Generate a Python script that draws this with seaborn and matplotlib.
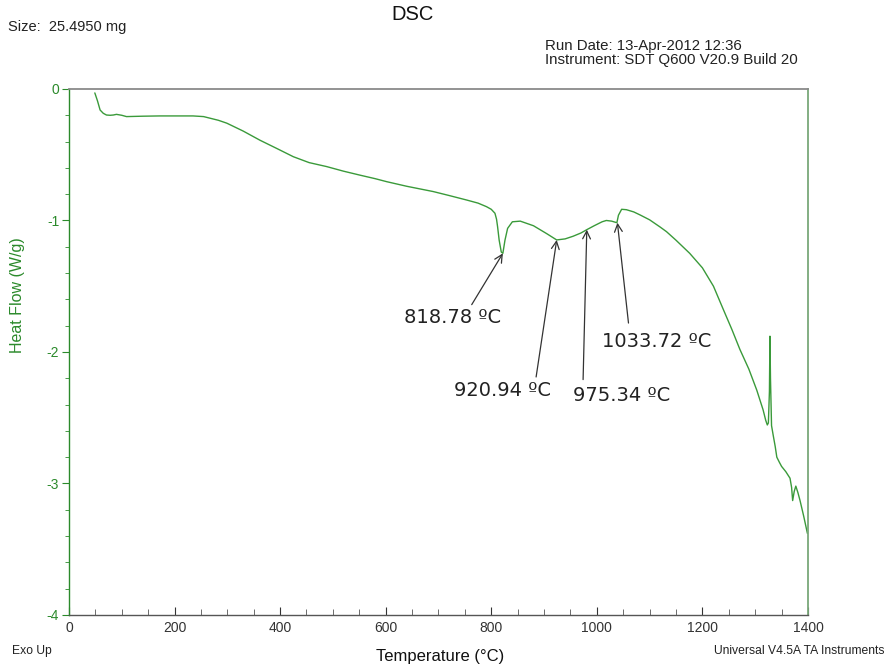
import numpy as np
import pandas as pd
import matplotlib
matplotlib.use("Agg")
import matplotlib.pyplot as plt
import seaborn as sns
from matplotlib.ticker import MultipleLocator

# ---- data ----
temperature = [49, 54, 59, 65, 71, 78, 84, 90, 100, 109, 140, 172, 205, 235, 255, 267,
               283, 299, 330, 362, 395, 425, 455, 488, 520, 551, 580, 602, 640, 690,
               720, 753, 775, 791, 800, 807, 810, 812, 815, 819, 822, 826, 831, 840,
               855, 880, 905, 924, 940, 955, 970, 981, 995, 1010, 1018, 1028, 1038,
               1041, 1047, 1056, 1070, 1082, 1100, 1120, 1132, 1150, 1176, 1200,
               1221, 1240, 1256, 1271, 1288, 1303, 1315, 1320, 1323, 1325, 1327,
               1328, 1329, 1331, 1334, 1338, 1341, 1346, 1350, 1358, 1366, 1369,
               1371, 1374, 1377, 1381, 1385, 1392, 1399]
heat_flow = [-0.03, -0.09, -0.16, -0.185, -0.198, -0.200, -0.198, -0.193, -0.200,
             -0.210, -0.207, -0.205, -0.205, -0.205, -0.210, -0.222, -0.238, -0.260,
             -0.320, -0.390, -0.455, -0.515, -0.560, -0.590, -0.625, -0.655, -0.682,
             -0.705, -0.740, -0.780, -0.810, -0.844, -0.868, -0.895, -0.915, -0.945,
             -0.990, -1.047, -1.150, -1.240, -1.250, -1.150, -1.060, -1.010, -1.005,
             -1.040, -1.100, -1.148, -1.140, -1.120, -1.095, -1.070, -1.040, -1.010,
             -1.000, -1.005, -1.017, -0.960, -0.915, -0.918, -0.935, -0.958, -0.995,
             -1.050, -1.085, -1.150, -1.250, -1.360, -1.500, -1.680, -1.830, -1.980,
             -2.130, -2.290, -2.440, -2.520, -2.555, -2.540, -2.300, -1.880, -2.200,
             -2.560, -2.630, -2.720, -2.800, -2.840, -2.870, -2.910, -2.960, -3.030,
             -3.130, -3.060, -3.020, -3.070, -3.130, -3.250, -3.380]

ann_labels = ["818.78 ºC", "920.94 ºC", "975.34 ºC", "1033.72 ºC"]
ann_point_T = [822, 924, 981, 1039]
ann_point_HF = [-1.25, -1.148, -1.07, -1.017]
ann_tail_T = [763, 885, 974, 1060]
ann_tail_HF = [-1.64, -2.19, -2.21, -1.78]
ann_text_T = [726, 822, 1047, 1114]
ann_text_HF = [-1.74, -2.29, -2.33, -1.92]

x_ticks = [0, 200, 400, 600, 800, 1000, 1200, 1400]
y_ticks = [0, -1, -2, -3, -4]

# ---- styling ----
sns.set_style("white")
plt.rcParams["font.family"] = ["Liberation Sans", "DejaVu Sans"]

green = "#3a9a3a"
dark_green = "#2b8a2b"

fig = plt.figure(figsize=(8.91, 6.67), dpi=100)
ax = fig.add_axes([0.0774, 0.078, 0.8294, 0.7886])

df = pd.DataFrame({"Temperature": temperature, "HeatFlow": heat_flow})
sns.lineplot(data=df, x="Temperature", y="HeatFlow", ax=ax, color=green,
             linewidth=1.0, sort=False, estimator=None)

ax.set_xlim(0, 1400)
ax.set_ylim(-4, 0)
ax.set_xticks(x_ticks)
ax.set_yticks(y_ticks)
ax.xaxis.set_minor_locator(MultipleLocator(50))
ax.yaxis.set_minor_locator(MultipleLocator(0.2))
ax.set_yticklabels([str(v) for v in y_ticks])

ax.tick_params(axis="x", which="major", direction="in", length=6, width=0.8,
               colors="#333333", labelsize=10, pad=4)
ax.tick_params(axis="x", which="minor", direction="in", length=4, width=0.6,
               colors="#555555")
ax.tick_params(axis="y", which="major", direction="out", length=5, width=0.8,
               colors=dark_green, labelsize=10, pad=2, left=True)
ax.tick_params(axis="y", which="minor", direction="out", length=3, width=0.6,
               colors=dark_green, left=True)
ax.tick_params(axis="x", bottom=True, which="both")

ax.spines["top"].set_color("#8a8a8a")
ax.spines["top"].set_linewidth(1.3)
ax.spines["bottom"].set_color("#555555")
ax.spines["bottom"].set_linewidth(1.0)
ax.spines["left"].set_color(dark_green)
ax.spines["left"].set_linewidth(1.0)
ax.spines["right"].set_color("#7aa87a")
ax.spines["right"].set_linewidth(1.3)

ax.set_xlabel("")
ax.set_ylabel("")

for lab, pT, pH, tT, tH, xT, xH in zip(ann_labels, ann_point_T, ann_point_HF,
                                       ann_tail_T, ann_tail_HF, ann_text_T, ann_text_HF):
    ax.annotate("", xy=(pT, pH), xytext=(tT, tH),
                arrowprops=dict(arrowstyle="->", color="#333333", lw=0.9,
                                mutation_scale=14, shrinkA=0, shrinkB=0))
    ax.text(xT, xH, lab, ha="center", va="center", fontsize=14,
            family=["DejaVu Sans"], color="#222222")

# ---- figure texts ----
fig.text(413 / 891, 1 - 14 / 667, "DSC", ha="center", va="center", fontsize=14.5,
         color="#111111")
fig.text(8 / 891, 1 - 27 / 667, "Size:  25.4950 mg", ha="left", va="center",
         fontsize=10.5, color="#222222")
fig.text(545 / 891, 1 - 46 / 667, "Run Date: 13-Apr-2012 12:36", ha="left",
         va="center", fontsize=10.8, color="#222222")
fig.text(545 / 891, 1 - 60 / 667, "Instrument: SDT Q600 V20.9 Build 20", ha="left",
         va="center", fontsize=10.8, color="#222222")
fig.text(440 / 891, 1 - 656 / 667, "Temperature (°C)", ha="center", va="center",
         fontsize=12, color="#111111")
fig.text(12 / 891, 1 - 651 / 667, "Exo Up", ha="left", va="center", fontsize=8.7,
         color="#222222")
fig.text(884 / 891, 1 - 651 / 667, "Universal V4.5A TA Instruments", ha="right",
         va="center", fontsize=8.7, color="#222222")
fig.text(18 / 891, 1 - 295 / 667, "Heat Flow (W/g)", ha="center", va="center",
         rotation=90, fontsize=11.5, color=dark_green)

fig.savefig("out.png", dpi=100, facecolor="white")
